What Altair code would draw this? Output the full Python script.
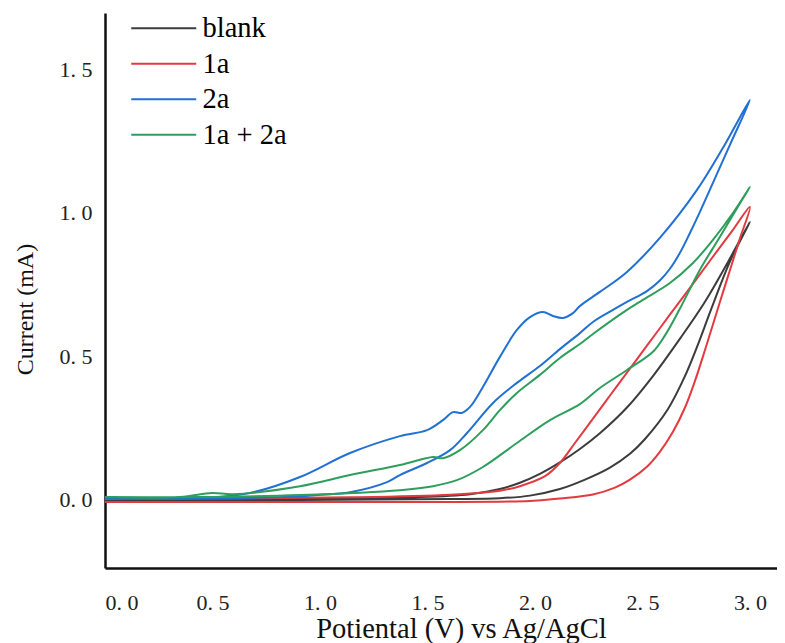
import altair as alt
import pandas as pd

series_names = ["blank", "1a", "2a", "1a + 2a"]
series_colors = ["#3c3c3c", "#e23a3f", "#2170d3", "#2e9e5c"]

blank_v = [0, 0.907, 1.605, 1.837, 1.977, 2.116, 2.233, 2.349, 2.442, 2.512, 2.619, 2.698, 2.753, 2.823, 2.907, 3.0,
           2.898, 2.791, 2.674, 2.549, 2.428, 2.302, 2.209, 2.116, 2.023, 1.930, 1.837, 1.698, 1.465, 0.907, 0]
blank_i = [-0.003, -0.003, 0.0, 0.003, 0.012, 0.035, 0.068, 0.110, 0.158, 0.210, 0.315, 0.430, 0.530, 0.670, 0.830, 0.969,
           0.829, 0.690, 0.560, 0.430, 0.320, 0.230, 0.175, 0.128, 0.088, 0.057, 0.035, 0.017, 0.007, 0.003, 0.0]

red_v = [0, 1.372, 1.977, 2.116, 2.270, 2.372, 2.442, 2.521, 2.581, 2.642, 2.698, 2.744, 2.791, 2.828, 2.860, 2.907, 2.953, 3.0,
         2.921, 2.814, 2.735, 2.660, 2.581, 2.521, 2.428, 2.349, 2.270, 2.186, 2.116, 2.047, 1.930, 1.837, 1.605, 1.140, 0]
red_i = [-0.010, -0.010, -0.007, 0.002, 0.016, 0.040, 0.068, 0.113, 0.165, 0.235, 0.320, 0.412, 0.521, 0.610, 0.688, 0.800, 0.910, 1.021,
         0.941, 0.833, 0.752, 0.677, 0.597, 0.536, 0.442, 0.362, 0.281, 0.196, 0.126, 0.080, 0.045, 0.029, 0.015, 0.006, 0.0]

blue_v = [0, 0.442, 0.674, 0.907, 1.140, 1.372, 1.498, 1.572, 1.619, 1.660, 1.698, 1.758, 1.837, 1.916, 1.977, 2.037, 2.084,
          2.130, 2.177, 2.209, 2.302, 2.428, 2.581, 2.753, 2.874, 3.0,
          2.907, 2.828, 2.767, 2.721, 2.674, 2.628, 2.581, 2.521, 2.428, 2.363, 2.270, 2.209, 2.116, 2.023, 1.916, 1.805,
          1.684, 1.605, 1.498, 1.372, 1.312, 1.140, 0.986, 0.828, 0.442, 0]
blue_i = [0.003, 0.003, 0.021, 0.077, 0.161, 0.220, 0.241, 0.276, 0.304, 0.301, 0.322, 0.392, 0.497, 0.591, 0.636, 0.654, 0.640,
          0.633, 0.650, 0.675, 0.724, 0.794, 0.913, 1.080, 1.227, 1.395,
          1.238, 1.105, 1.003, 0.930, 0.860, 0.805, 0.764, 0.727, 0.689, 0.661, 0.619, 0.580, 0.524, 0.465, 0.406, 0.336,
          0.231, 0.171, 0.126, 0.084, 0.059, 0.024, 0.014, 0.007, 0.003, 0.003]

green_v = [0, 0.349, 0.498, 0.595, 0.907, 1.140, 1.372, 1.526, 1.572, 1.651, 1.758, 1.837, 1.916, 2.023, 2.116, 2.209, 2.270,
           2.428, 2.502, 2.628, 2.735, 2.828, 2.921, 3.0,
           2.963, 2.860, 2.767, 2.674, 2.605, 2.549, 2.428, 2.302, 2.209, 2.070, 1.916, 1.758, 1.637, 1.526, 1.372,
           0.907, 0.442, 0]
green_i = [0.007, 0.007, 0.021, 0.017, 0.045, 0.084, 0.119, 0.147, 0.143, 0.171, 0.241, 0.311, 0.371, 0.434, 0.493, 0.542, 0.577,
           0.661, 0.696, 0.755, 0.825, 0.906, 1.000, 1.091,
           1.045, 0.916, 0.801, 0.665, 0.572, 0.515, 0.451, 0.388, 0.332, 0.276, 0.196, 0.112, 0.066, 0.045, 0.031,
           0.014, 0.007, 0.007]

x_ticks = [0, 0.5, 1.0, 1.5, 2.0, 2.5, 3.0]
y_ticks = [0, 0.5, 1.0, 1.5]

rows = []
for name, vs, cs in zip(series_names, [blank_v, red_v, blue_v, green_v], [blank_i, red_i, blue_i, green_i]):
    for k, (v, c) in enumerate(zip(vs, cs)):
        rows.append({"series": name, "V": v, "I": c, "k": k})
df = pd.DataFrame(rows)

font = "Liberation Serif"
label_expr = "replace(format(datum.value, '.1f'), '.', '. ')"

chart = alt.Chart(df).mark_line(strokeWidth=2, interpolate="catmull-rom").encode(
    x=alt.X("V:Q",
            scale=alt.Scale(domain=[0, 3.126], nice=False, zero=False),
            axis=alt.Axis(values=x_ticks, title="Potiental (V) vs Ag/AgCl", labelExpr=label_expr,
                          ticks=False, tickSize=0, grid=False, labelPadding=24, titleFontSize=28.5,
                          titleX=356, titleY=69, titleBaseline="alphabetic", titleAlign="center")),
    y=alt.Y("I:Q",
            scale=alt.Scale(domain=[-0.241, 1.699], nice=False, zero=False),
            axis=alt.Axis(values=y_ticks, title="Current (mA)", labelExpr=label_expr,
                          ticks=False, tickSize=0, grid=False, labelPadding=13, titleFontSize=24,
                          titleX=-80, titleY=296, titleAngle=270, titleAlign="center", titleBaseline="middle")),
    color=alt.Color("series:N",
                    scale=alt.Scale(domain=series_names, range=series_colors),
                    legend=alt.Legend(orient="none", legendX=44.5, legendY=1, title=None,
                                      symbolType="M-2.5,0H2.5", symbolSize=676, symbolStrokeWidth=2,
                                      symbolFillColor="transparent",
                                      labelFont=font, labelFontSize=28.5, labelColor="black",
                                      labelOffset=24.5, rowPadding=6.5)),
    order=alt.Order("k:Q"),
).properties(
    width=672, height=555,
    padding={"left": 97, "top": 5, "right": 0, "bottom": 90},
    autosize=alt.AutoSizeParams(type="none"),
).configure(
    font=font,
).configure_view(stroke=None).configure_axis(
    domainColor="#111111", domainWidth=2.5,
    labelFont=font, labelFontSize=22, labelColor="#222222",
    titleFont=font, titleFontWeight="normal", titleColor="#111111",
).configure_legend(
    labelFont=font, labelColor="black",
)

chart.save("out.html", embed_options={"renderer": "svg", "actions": False})
